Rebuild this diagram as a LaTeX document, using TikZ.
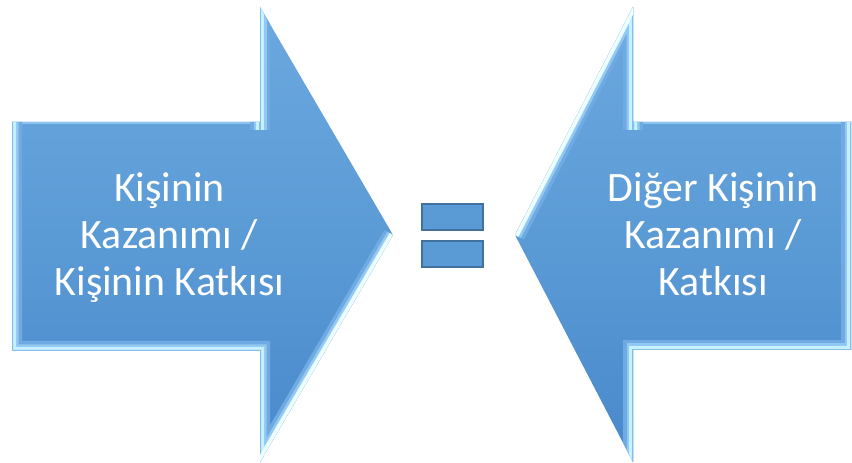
\documentclass[tikz,border=0pt]{standalone}
\usepackage{fontspec}
\setmainfont{Carlito}
\usetikzlibrary{calc}
\definecolor{fillTop}{HTML}{6CA8E0}
\definecolor{fillMid}{HTML}{5B9BD5}
\definecolor{fillBot}{HTML}{4988CC}
\definecolor{bevA}{HTML}{6FABE2}
\definecolor{bevB}{HTML}{92C8F1}
\definecolor{bevC}{HTML}{C6F2FF}
\definecolor{bevD}{HTML}{86BEEC}
\definecolor{bevW}{HTML}{EEFDFF}
\definecolor{bevS}{HTML}{8DC3EE}
\definecolor{eqLine}{HTML}{41719C}
\tikzset{
  arrowbody/.style={top color=fillTop, bottom color=fillBot, middle color=fillMid},
  bevline/.style={line cap=butt, line join=miter},
  eqbar/.style={fill=fillMid, draw=eqLine, line width=2.5bp},
  lbl/.style={text=white, inner sep=0pt, anchor=base, font=\fontsize{42pt}{48pt}\selectfont},
}
\begin{document}
\begin{tikzpicture}[x=1bp,y=-1bp]
\useasboundingbox (0,0) rectangle (852,463);
% left arrow
\coordinate (A1) at (12,122);
\coordinate (A2) at (260,122);
\coordinate (A3) at (260,7);
\coordinate (A4) at (393,235);
\coordinate (A5) at (260,462);
\coordinate (A6) at (260,351);
\coordinate (A7) at (12,351);
% right arrow
\coordinate (B1) at (851,122);
\coordinate (B2) at (633,122);
\coordinate (B3) at (633,7);
\coordinate (B4) at (515,235);
\coordinate (B5) at (633,462);
\coordinate (B6) at (633,350);
\coordinate (B7) at (851,350);

\shade[arrowbody] (A1)--(A2)--(A3)--(A4)--(A5)--(A6)--(A7)--cycle;
\begin{scope}
  \clip (A1)--(A2)--(A3)--(A4)--(A5)--(A6)--(A7)--cycle;
  \draw[bevline, line width=5bp, draw=bevS] (A7) -- (A1) -- (A2) -- (A3);
  \foreach \w/\c in {20/bevA,13/bevB,8/bevC,2/bevD}{
    \draw[bevline, line width=\w bp, draw=\c] (A4) -- (A5) -- (A6) -- (A7) -- (A1) -- ++(0,-20);
    \draw[bevline, line width=\w bp, draw=\c] ($(A2)+(0,8)$) -- (A3);
  }
  \draw[bevline, line width=7bp, draw=bevW] (A4) -- (A5);
\end{scope}

\shade[arrowbody] (B1)--(B2)--(B3)--(B4)--(B5)--(B6)--(B7)--cycle;
\begin{scope}
  \clip (B1)--(B2)--(B3)--(B4)--(B5)--(B6)--(B7)--cycle;
  \draw[bevline, line width=5bp, draw=bevS] (B2) -- (B1);
  \foreach \w/\c in {20/bevA,13/bevB,8/bevC,2/bevD}{
    \draw[bevline, line width=\w bp, draw=\c] ($(B2)+(0,8)$) -- (B3) -- (B4);
    \draw[bevline, line width=\w bp, draw=\c] (B5) -- (B6) -- (B7) -- (B1) -- ++(0,-20);
  }
  \draw[bevline, line width=7bp, draw=bevW] (B3) -- (B4);
\end{scope}

% equals sign
\draw[eqbar] (422,204) rectangle (483,230);
\draw[eqbar] (422,241) rectangle (483,267);

% texts
\node[lbl] (l1) at (169.5,202) {Kişinin};
\node[lbl] (l2) at (169.5,249) {Kazanımı /};
\node[lbl] (l3) at (169.5,296) {Kişinin Katkısı};
\node[lbl] (r1) at (713,202) {Diğer Kişinin};
\node[lbl] (r2) at (713,249) {Kazanımı /};
\node[lbl] (r3) at (713,296) {Katkısı};
\end{tikzpicture}
\end{document}
